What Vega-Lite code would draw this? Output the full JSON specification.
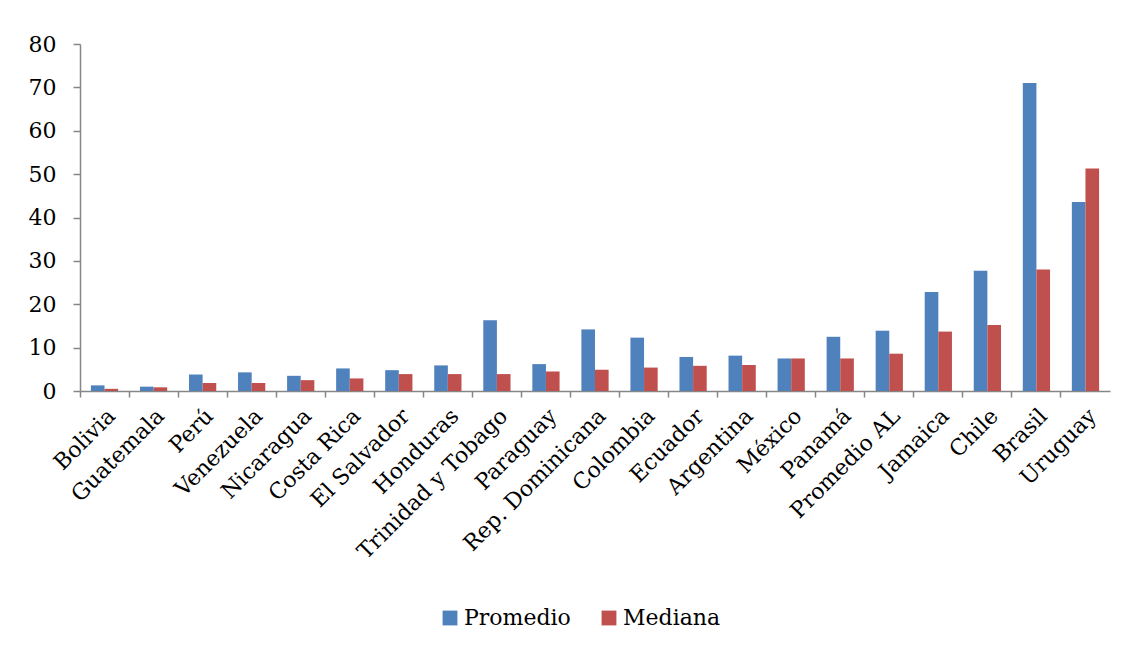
{
  "$schema": "https://vega.github.io/schema/vega-lite/v6.json",
  "width": 1030,
  "height": 347,
  "padding": {"left": 28, "top": 33, "right": 15, "bottom": 10},
  "background": "white",
  "data": {
    "values": [
      {"pais": "Bolivia", "serie": "Promedio", "valor": 1.3},
      {"pais": "Bolivia", "serie": "Mediana", "valor": 0.5},
      {"pais": "Guatemala", "serie": "Promedio", "valor": 1.0},
      {"pais": "Guatemala", "serie": "Mediana", "valor": 0.85},
      {"pais": "Perú", "serie": "Promedio", "valor": 3.8},
      {"pais": "Perú", "serie": "Mediana", "valor": 1.85},
      {"pais": "Venezuela", "serie": "Promedio", "valor": 4.3},
      {"pais": "Venezuela", "serie": "Mediana", "valor": 1.85},
      {"pais": "Nicaragua", "serie": "Promedio", "valor": 3.5},
      {"pais": "Nicaragua", "serie": "Mediana", "valor": 2.5},
      {"pais": "Costa Rica", "serie": "Promedio", "valor": 5.2},
      {"pais": "Costa Rica", "serie": "Mediana", "valor": 2.9},
      {"pais": "El Salvador", "serie": "Promedio", "valor": 4.8},
      {"pais": "El Salvador", "serie": "Mediana", "valor": 3.9},
      {"pais": "Honduras", "serie": "Promedio", "valor": 5.9},
      {"pais": "Honduras", "serie": "Mediana", "valor": 3.9},
      {"pais": "Trinidad y Tobago", "serie": "Promedio", "valor": 16.3},
      {"pais": "Trinidad y Tobago", "serie": "Mediana", "valor": 3.9},
      {"pais": "Paraguay", "serie": "Promedio", "valor": 6.2},
      {"pais": "Paraguay", "serie": "Mediana", "valor": 4.5},
      {"pais": "Rep. Dominicana", "serie": "Promedio", "valor": 14.2},
      {"pais": "Rep. Dominicana", "serie": "Mediana", "valor": 4.9},
      {"pais": "Colombia", "serie": "Promedio", "valor": 12.3},
      {"pais": "Colombia", "serie": "Mediana", "valor": 5.4},
      {"pais": "Ecuador", "serie": "Promedio", "valor": 7.85},
      {"pais": "Ecuador", "serie": "Mediana", "valor": 5.8},
      {"pais": "Argentina", "serie": "Promedio", "valor": 8.15},
      {"pais": "Argentina", "serie": "Mediana", "valor": 6.0},
      {"pais": "México", "serie": "Promedio", "valor": 7.5},
      {"pais": "México", "serie": "Mediana", "valor": 7.5},
      {"pais": "Panamá", "serie": "Promedio", "valor": 12.5},
      {"pais": "Panamá", "serie": "Mediana", "valor": 7.5},
      {"pais": "Promedio AL", "serie": "Promedio", "valor": 13.9},
      {"pais": "Promedio AL", "serie": "Mediana", "valor": 8.6},
      {"pais": "Jamaica", "serie": "Promedio", "valor": 22.8},
      {"pais": "Jamaica", "serie": "Mediana", "valor": 13.7},
      {"pais": "Chile", "serie": "Promedio", "valor": 27.7},
      {"pais": "Chile", "serie": "Mediana", "valor": 15.2},
      {"pais": "Brasil", "serie": "Promedio", "valor": 71.0},
      {"pais": "Brasil", "serie": "Mediana", "valor": 28.0},
      {"pais": "Uruguay", "serie": "Promedio", "valor": 43.6},
      {"pais": "Uruguay", "serie": "Mediana", "valor": 51.3}
    ]
  },
  "mark": {"type": "bar"},
  "encoding": {
    "x": {
      "field": "pais",
      "type": "nominal",
      "sort": null,
      "title": null,
      "scale": {"paddingInner": 0, "paddingOuter": 0},
      "axis": {
        "labelAngle": -45,
        "labelFont": "DejaVu Serif",
        "labelFontSize": 22,
        "labelColor": "black",
        "labelPadding": 8,
        "labelLimit": 400,
        "bandPosition": 0,
        "tickSize": 6,
        "tickColor": "#868686",
        "tickWidth": 1.5,
        "domainColor": "#868686",
        "domainWidth": 1.5
      }
    },
    "xOffset": {
      "field": "serie",
      "type": "nominal",
      "sort": ["Promedio", "Mediana"],
      "scale": {"paddingInner": 0, "paddingOuter": 0.8}
    },
    "y": {
      "field": "valor",
      "type": "quantitative",
      "title": null,
      "scale": {"domain": [0, 80]},
      "axis": {
        "values": [0, 10, 20, 30, 40, 50, 60, 70, 80],
        "grid": false,
        "labelFont": "DejaVu Serif",
        "labelFontSize": 22,
        "labelColor": "black",
        "labelPadding": 17,
        "tickSize": 7,
        "tickColor": "#868686",
        "tickWidth": 1.5,
        "domainColor": "#868686",
        "domainWidth": 1.5
      }
    },
    "color": {
      "field": "serie",
      "type": "nominal",
      "sort": ["Promedio", "Mediana"],
      "scale": {"domain": ["Promedio", "Mediana"], "range": ["#4F81BD", "#C0504D"]},
      "legend": {
        "title": null,
        "orient": "none",
        "legendX": 359,
        "legendY": 563,
        "direction": "horizontal",
        "symbolType": "square",
        "symbolSize": 220,
        "symbolStrokeWidth": 0,
        "labelFont": "DejaVu Serif",
        "labelFontSize": 22,
        "labelColor": "black",
        "labelOffset": 3,
        "columnPadding": 27
      }
    }
  },
  "config": {
    "view": {"stroke": null}
  }
}
